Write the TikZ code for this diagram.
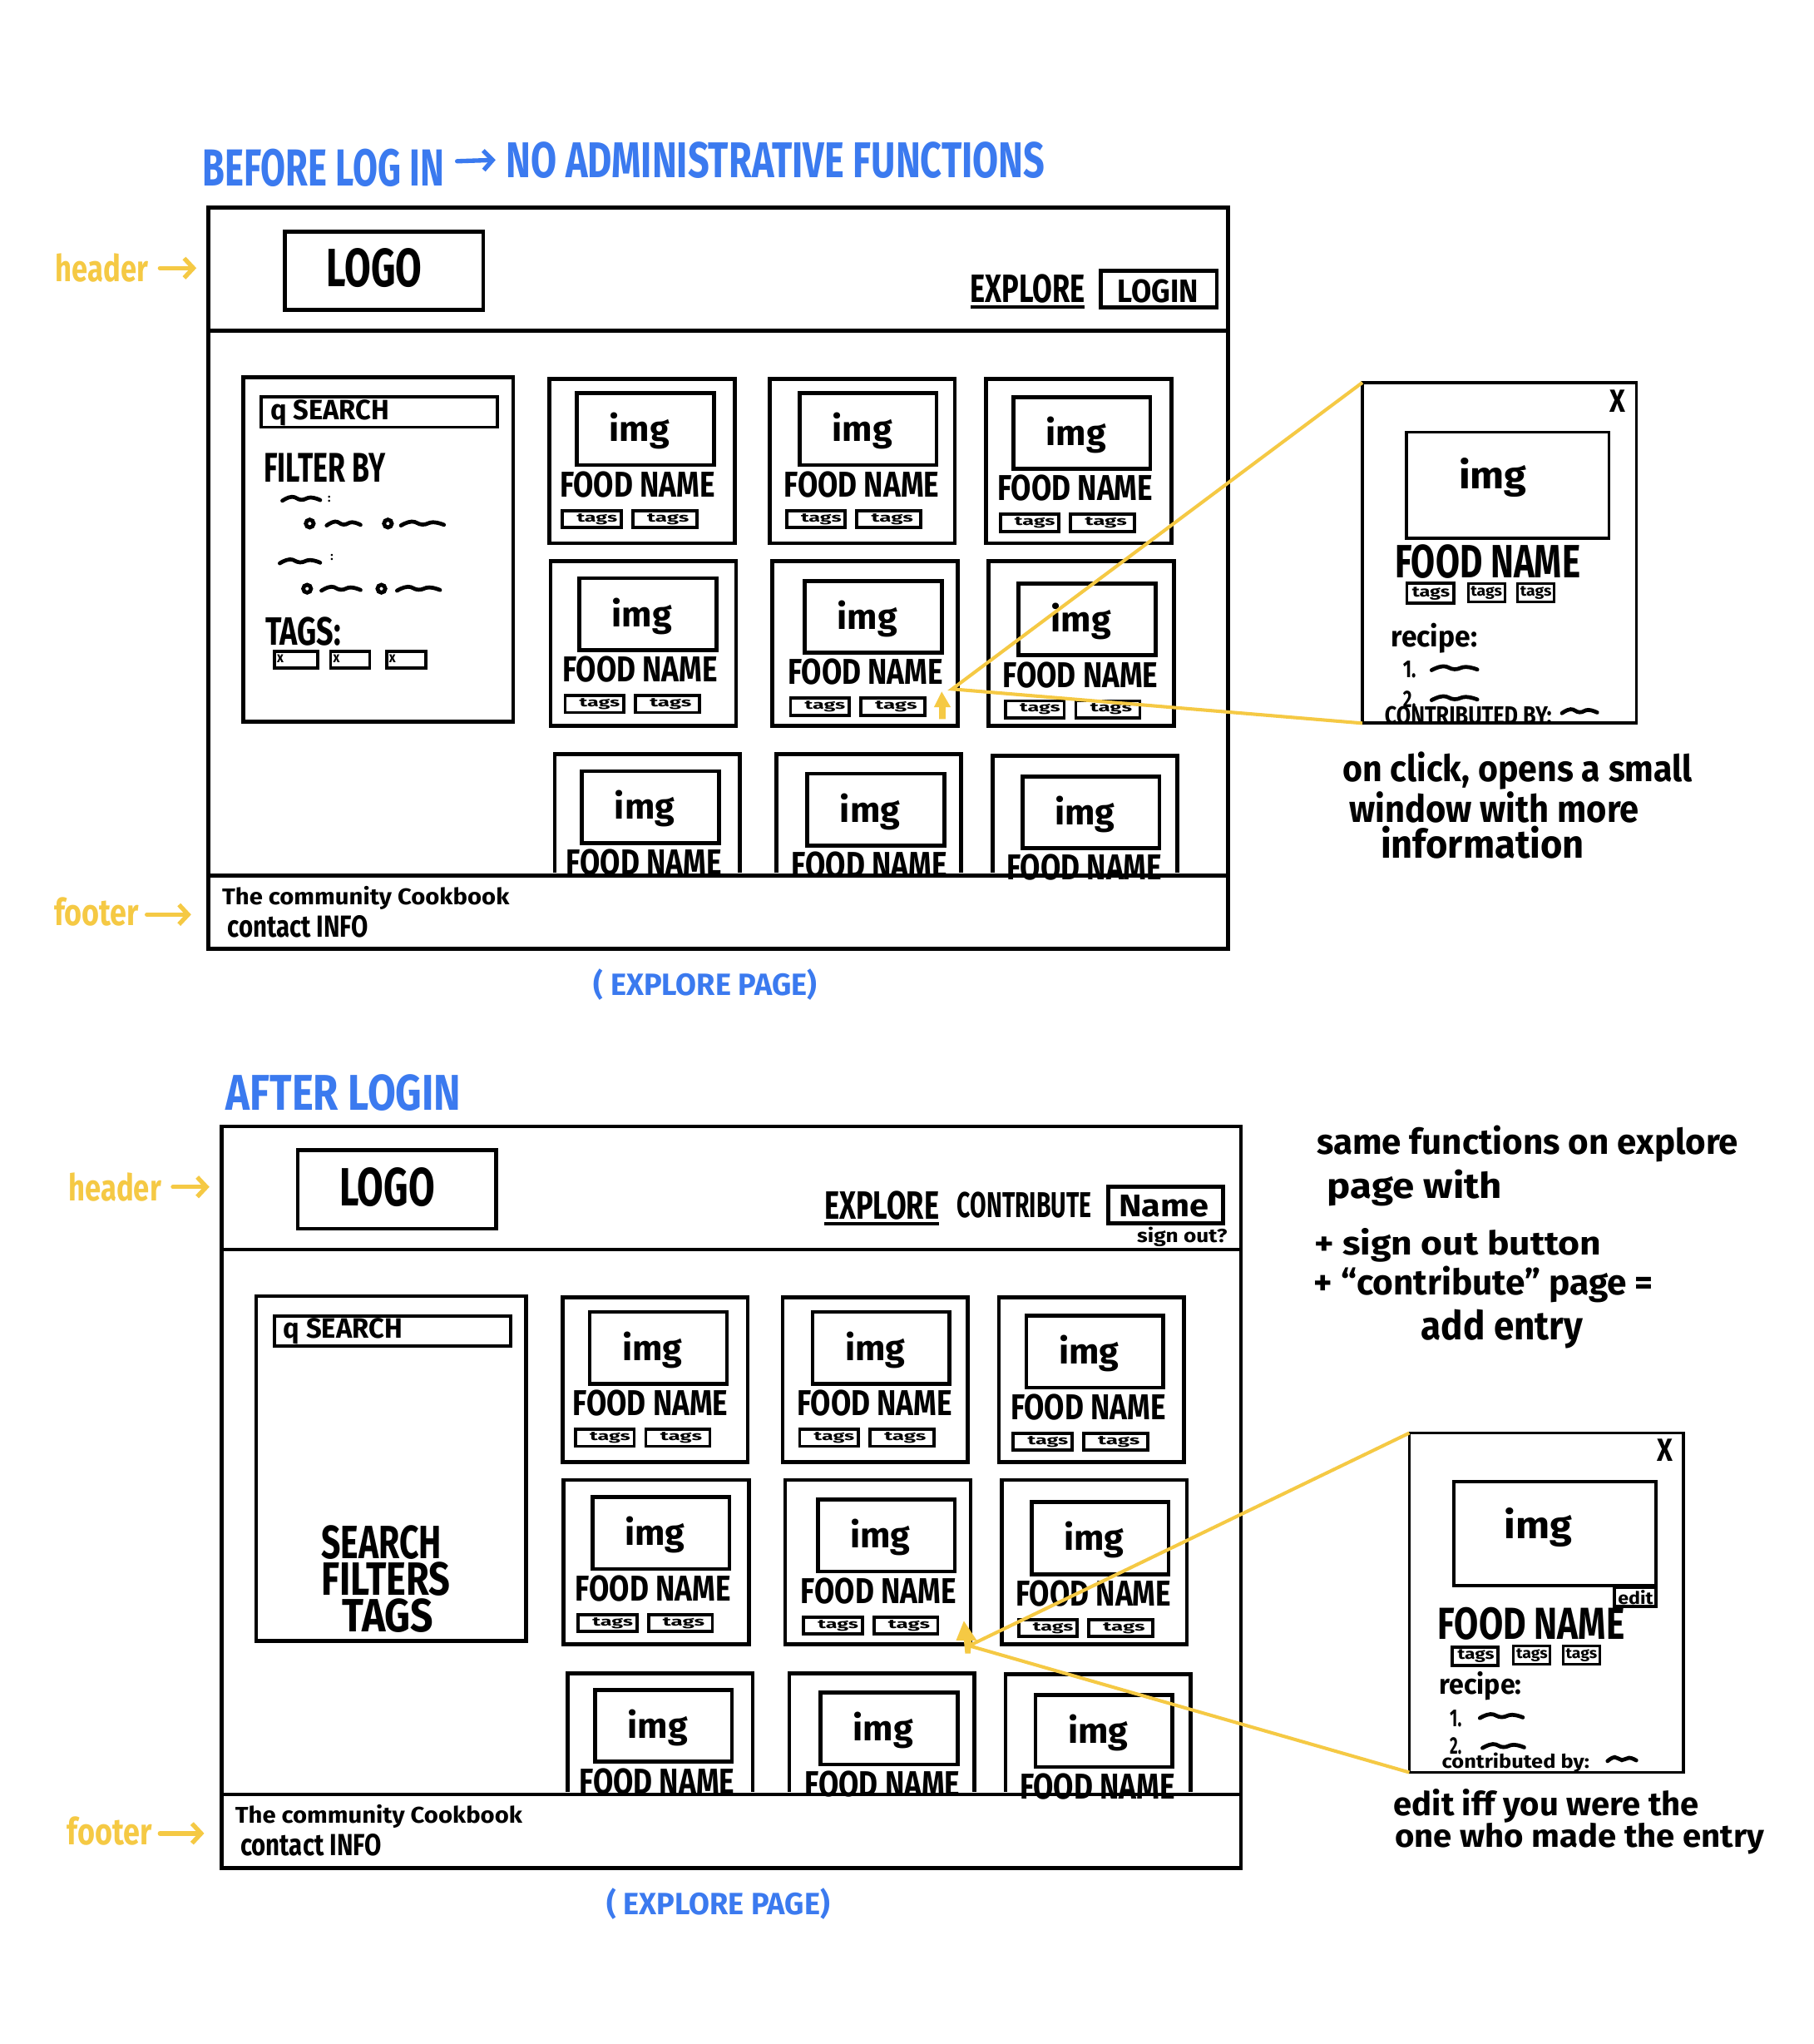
\documentclass[tikz,border=0pt]{standalone}
\usepackage{fontspec}
\usepackage{graphicx}
\setmainfont{Fira Sans}
\usetikzlibrary{arrows.meta}
\definecolor{hwblue}{HTML}{3B7AEF}
\definecolor{hwyellow}{HTML}{F5C944}
\tikzset{
  x=0.9985pt,y=-0.9985pt,
  frameln/.style={line width=3pt,draw=black,line join=miter,inner sep=0pt,outer sep=0pt},
  boxthick/.style={draw=black,line width=3pt,inner sep=0pt,outer sep=0pt},
  boxmid/.style={draw=black,line width=2.4pt,inner sep=0pt,outer sep=0pt},
  boxthin/.style={draw=black,line width=1.9pt,inner sep=0pt,outer sep=0pt},
  squig/.style={line width=3pt,line cap=round,draw=black},
  dotring/.style={draw=black,line width=3pt,inner sep=0pt,outer sep=0pt,minimum width=6pt,shape=circle},
  yconn/.style={line width=2.6pt,draw=hwyellow},
  yarrow/.style={line width=3.4pt,draw=hwyellow,line cap=round,-{Straight Barb[length=7pt,width=15pt]}},
  barrow/.style={line width=3.4pt,draw=hwblue,line cap=round,-{Straight Barb[length=7pt,width=15pt]}},
}
% box node: style, name, x1,y1,x2,y2
\newcommand\bx[6]{%
  \pgfmathsetmacro\bxw{(#5)-(#3)}\pgfmathsetmacro\bxh{(#6)-(#4)}%
  \pgfmathsetmacro\bxc{((#3)+(#5))/2}\pgfmathsetmacro\bxd{((#4)+(#6))/2}%
  \node[#1,minimum width=\bxw pt,minimum height=\bxh pt] (#2) at (\bxc,\bxd) {};}
% text node: colour, name, x1,x2,cy,total height,text
\newcommand\hw[7]{%
  \pgfmathsetmacro\hwc{((#3)+(#4))/2}\pgfmathsetmacro\hww{(#4)-(#3)}%
  \pgfmathsetmacro\hwy{#5}%
  \node[inner sep=0pt,outer sep=0pt,text=#1] (#2) at (\hwc,\hwy) {\resizebox*{\hww pt}{#6pt}{\bfseries #7}};}
% squiggle
\newcommand\sq[3]{%
  \pgfmathsetmacro\sqa{#1+(#3-#1)*0.25}\pgfmathsetmacro\sqb{#1+(#3-#1)*0.5}\pgfmathsetmacro\sqc{#1+(#3-#1)*0.75}%
  \draw[squig] plot[smooth,tension=0.8] coordinates {(#1,#2+1.5) (\sqa,#2-1.5) (\sqb,#2+0.8) (\sqc,#2-1) (#3,#2+1)};}
% inner of a card: prefix, img x,y, food x,y, tag x,y
\newcommand\cardin[7]{%
  \bx{boxthick}{#1i}{#2}{#3}{#2+105}{#3+55}
  \hw{black}{#1it}{#2+25}{#2+71}{#3+29}{28}{img}
  \hw{black}{#1f}{#4}{#4+119}{#5}{20}{FOOD NAME}
  \ifx&#6&\else
  \bx{boxmid}{#1ta}{#6}{#7}{#6+45}{#7+13}
  \bx{boxmid}{#1tb}{#6+54}{#7}{#6+103}{#7+13}
  \hw{black}{#1tat}{#6+11}{#6+42}{#7+6.5}{8.5}{tags}
  \hw{black}{#1tbt}{#6+65}{#6+97}{#7+6.5}{8.5}{tags}
  \fi}
\newcommand\card[9]{%
  \bx{boxthick}{#1}{#2}{#3}{#2+142}{#3+126}
  \cardin{#1}{#4}{#5}{#6}{#7}{#8}{#9}}
\newcommand\cardopen[6]{%
  \draw[line width=3pt] (#2,669) -- (#2,#3) -- (#2+142,#3) -- (#2+142,669);
  \cardin{#1}{#4}{#5}{#6}{#5+70}{}{}}
% common page frame, header box, cards
\newcommand\frameandcards[1]{%
  \bx{frameln}{#1frame}{160}{159}{941}{727}
  \draw[frameln] (160,253) -- (941,253);
  \draw[frameln] (160,671) -- (941,671);
  \draw[frameln] (941,727) -- (943,727);
  \bx{boxthick}{#1logo}{218}{177}{370}{237}
  \hw{black}{#1logot}{250}{323}{205}{30}{LOGO}
  \bx{boxthick}{#1side}{186}{289}{393}{553}
  \bx{boxmid}{#1srch}{200}{304}{381}{327}
  \hw{black}{#1srcht}{207}{298}{316}{20}{q SEARCH}
  \card{#1c1}{421}{290}{442}{301}{429}{371}{431}{391}
  \card{#1c2}{590}{290}{613}{301}{601}{371}{603}{391}
  \card{#1c3}{756}{290}{777}{304}{765}{374}{767}{394}
  \card{#1c4}{422}{430}{444}{443}{431}{513}{433}{533}
  \card{#1c5}{592}{430}{617}{445}{604}{515}{606}{535}
  \card{#1c6}{758}{430}{781}{447}{769}{517}{771}{537}
  \cardopen{#1c7}{425}{578}{446}{591}{434}
  \cardopen{#1c8}{595}{578}{619}{593}{607}
  \cardopen{#1c9}{761}{579}{784}{595}{772}
  \hw{black}{#1ft}{170}{390}{688}{18}{The community Cookbook}
  \hw{black}{#1fi}{174}{282}{710}{17}{contact INFO}
  \hw{hwyellow}{#1hl}{42}{113}{205}{22}{header}
  \coordinate (#1ha) at (150,205);
  \draw[yarrow] (#1hl.east) ++(9,0) -- (#1ha);
  \hw{hwyellow}{#1fl}{41}{106}{699}{22}{footer}
  \coordinate (#1fa) at (146,701);
  \draw[yarrow] (#1fl.east) ++(6,2) -- (#1fa);
  \hw{hwblue}{#1cap}{455}{626}{755}{24}{( EXPLORE PAGE)}
}
\begin{document}
\begin{tikzpicture}
\useasboundingbox (-0.7,-0.7) rectangle (1391.4,1567.6);
\fill[white] (-0.7,-0.7) rectangle (1391.4,1567.6);

% ---------- before login ----------
\hw{hwblue}{t1}{155}{340}{128}{29}{BEFORE LOG IN}
\hw{hwblue}{t2}{388}{801}{122}{28}{NO ADMINISTRATIVE FUNCTIONS}
\draw[barrow] (t1.east) ++(10,-5) -- ([xshift=-8pt,yshift=0pt]t2.west);
\frameandcards{a}
\hw{black}{aexp}{744}{832}{221}{22}{EXPLORE}
\draw[line width=2.6pt] (aexp.south west) ++(0,3) -- ++(88,0);
\bx{boxthick}{alogin}{844}{207}{933}{235}
\hw{black}{alogint}{857}{919}{223}{18}{LOGIN}
% filters
\hw{black}{afilt}{202}{295}{358}{22}{FILTER BY}
\sq{216}{382}{245}
\node[inner sep=0pt] (acol1) at (252,382) {\bfseries\fontsize{9}{9}\selectfont :};
\node[dotring] (ao1) at (237,401) {};
\sq{250}{401}{276}
\node[dotring] (ao2) at (297,401) {};
\sq{307}{401}{340}
\sq{214}{430}{245}
\node[inner sep=0pt] (acol2) at (254,427) {\bfseries\fontsize{9}{9}\selectfont :};
\node[dotring] (ao3) at (235,451) {};
\sq{246}{451}{276}
\node[dotring] (ao4) at (292,451) {};
\sq{304}{451}{337}
\hw{black}{atags}{203}{261}{484}{22}{TAGS:}
\bx{boxmid}{atg1}{210}{499}{243}{512}
\bx{boxmid}{atg2}{253}{499}{283}{512}
\bx{boxmid}{atg3}{296}{499}{326}{512}
\hw{black}{atg1x}{212}{217}{505}{6}{x}
\hw{black}{atg2x}{255}{260}{505}{6}{x}
\hw{black}{atg3x}{298}{303}{505}{6}{x}
% popup 1
\bx{boxmid}{apop}{1045}{293}{1255}{554}
\hw{black}{apx}{1235}{1247}{307}{17}{X}
\bx{boxmid}{apimg}{1079}{331}{1234}{412}
\hw{black}{apimgt}{1119}{1171}{366}{30}{img}
\hw{black}{apf}{1070}{1212}{430}{26}{FOOD NAME}
\bx{boxmid}{apt1}{1079}{447}{1115}{462}
\bx{boxthin}{apt2}{1126}{447}{1154}{461}
\bx{boxthin}{apt3}{1164}{447}{1192}{461}
\hw{black}{apt1t}{1083}{1112}{454.5}{10}{tags}
\hw{black}{apt2t}{1128}{1152}{454}{10}{tags}
\hw{black}{apt3t}{1166}{1190}{454}{10}{tags}
\hw{black}{aprec}{1067}{1133}{489}{23}{recipe:}
\hw{black}{ap1}{1076}{1086}{513}{13}{1.}
\sq{1098}{512}{1133}
\hw{black}{ap2}{1076}{1086}{536}{13}{2.}
\sq{1098}{535}{1133}
\hw{black}{apcon}{1062}{1190}{548}{14}{CONTRIBUTED BY:}
\sq{1198}{545}{1225}
\coordinate (aclick) at (730,528);
\draw[yconn] (apop.north west) -- (aclick) -- (apop.south west);
\fill[hwyellow] (722,530) -- (729,542) -- (725,542) -- (725,551) -- (720,551) -- (720,542) -- (716,542) -- cycle;
\hw{black}{an1}{1030}{1298}{591}{29}{on click, opens a small}
\hw{black}{an2}{1035}{1257}{619}{24}{window with more}
\hw{black}{an3}{1059}{1215}{646}{25}{information}

% ---------- after login ----------
\hw{hwblue}{t3}{173}{353}{838}{28}{AFTER LOGIN}
\begin{scope}[shift={(10,705)}]
\frameandcards{b}
\hw{black}{bexp}{622}{710}{219}{22}{EXPLORE}
\draw[line width=2.6pt] (bexp.south west) ++(0,3) -- ++(88,0);
\hw{black}{bcon}{724}{827}{219}{20}{CONTRIBUTE}
\bx{boxthick}{bname}{840}{205}{928}{233}
\hw{black}{bnamet}{848}{917}{220}{17}{Name}
\hw{black}{bsign}{862}{931}{243}{15}{sign out?}
\hw{black}{bs1}{236}{328}{478}{26}{SEARCH}
\hw{black}{bs2}{236}{335}{506}{26}{FILTERS}
\hw{black}{bs3}{252}{322}{534}{26}{TAGS}
\end{scope}
\hw{black}{bn1}{1010}{1333}{877}{28}{same functions on explore}
\hw{black}{bn2}{1018}{1152}{911}{28}{page with}
\hw{black}{bn3}{1008}{1228}{955}{26}{+ sign out button}
\hw{black}{bn4}{1008}{1268}{985}{28}{+ ``contribute'' page =}
\hw{black}{bn5}{1090}{1214}{1019}{30}{add entry}
% popup 2
\bx{boxmid}{bpop}{1081}{1099}{1291}{1359}
\hw{black}{bpx}{1271}{1283}{1112}{17}{X}
\bx{boxmid}{bpimg}{1115}{1136}{1270}{1216}
\hw{black}{bpimgt}{1154}{1206}{1171}{30}{img}
\bx{boxmid}{bped}{1238}{1217}{1270}{1232}
\hw{black}{bpedt}{1241}{1268}{1225}{11}{edit}
\hw{black}{bpf}{1103}{1246}{1245}{25}{FOOD NAME}
\bx{boxmid}{bpt1}{1114}{1263}{1149}{1277}
\bx{boxthin}{bpt2}{1161}{1262}{1189}{1276}
\bx{boxthin}{bpt3}{1199}{1262}{1227}{1276}
\hw{black}{bpt1t}{1118}{1146}{1270}{10}{tags}
\hw{black}{bpt2t}{1163}{1187}{1269}{10}{tags}
\hw{black}{bpt3t}{1201}{1225}{1269}{10}{tags}
\hw{black}{bprec}{1104}{1167}{1293}{22}{recipe:}
\hw{black}{bp1}{1112}{1121}{1318}{13}{1.}
\sq{1135}{1316}{1168}
\hw{black}{bp2}{1112}{1121}{1339}{13}{2.}
\sq{1137}{1339}{1169}
\hw{black}{bpcon}{1106}{1219}{1352}{15}{contributed by:}
\sq{1233}{1349}{1255}
\coordinate (bclick) at (743,1262);
\draw[yconn] (bpop.north west) -- (bclick) -- (bpop.south west);
\fill[hwyellow] (739,1243) -- (749,1258) -- (745,1258) -- (744,1268) -- (740,1268) -- (739,1258) -- (733,1258) -- cycle;
\hw{black}{bn6}{1069}{1303}{1385}{26}{edit iff you were the}
\hw{black}{bn7}{1070}{1353}{1410}{24}{one who made the entry}
\end{tikzpicture}
\end{document}
